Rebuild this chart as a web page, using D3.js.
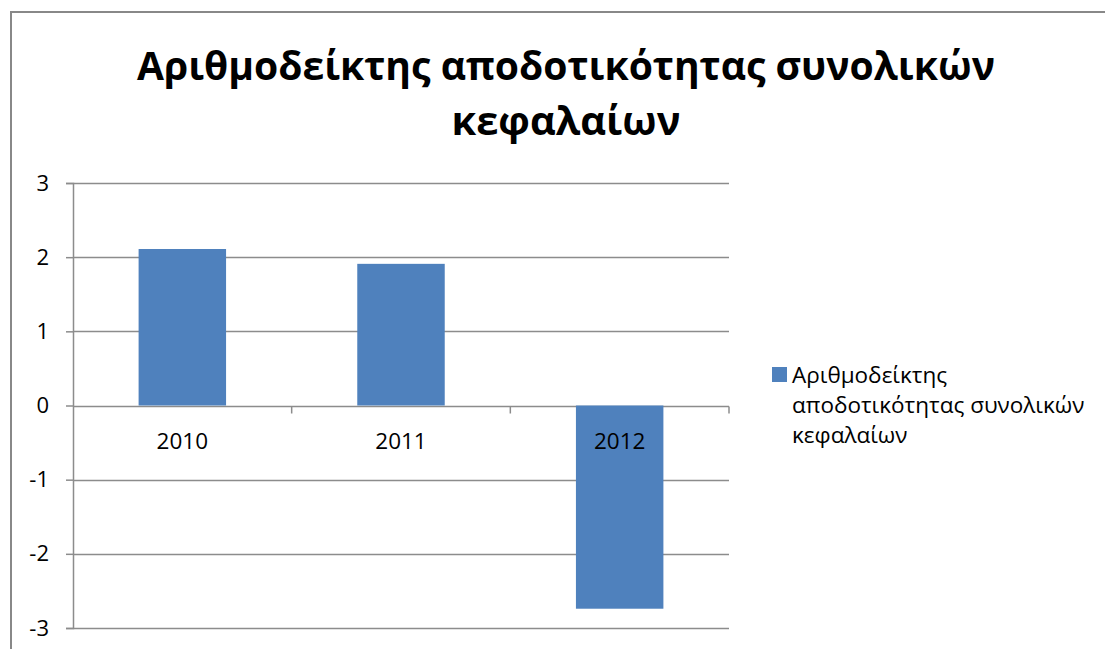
<!DOCTYPE html>
<html>
<head>
<meta charset="utf-8">
<script src="https://cdn.jsdelivr.net/npm/d3@7"></script>
<style>
  html, body { margin: 0; padding: 0; background: #fff; }
  svg { display: block; }
  text { font-family: "Open Sans", "Noto Sans", sans-serif; fill: #000; }
</style>
</head>
<body>
<svg id="chart" width="1105" height="649"></svg>
<script>
// Chart data
const categories = ["2010", "2011", "2012"];
const values = [2.11, 1.91, -2.74];
const yTicks = [3, 2, 1, 0, -1, -2, -3];
const titleLines = ["Αριθμοδείκτης αποδοτικότητας συνολικών", "κεφαλαίων"];
const seriesName = ["Αριθμοδείκτης", "αποδοτικότητας συνολικών", "κεφαλαίων"];

const svg = d3.select("#chart");
const W = 1105, H = 649;
const barColor = "#4F81BD";
const gridColor = "#8C8C8C";

// chart frame (left and top edges visible)
svg.append("path")
  .attr("d", `M11,${H} L11,12 L${W},12`)
  .attr("fill", "none").attr("stroke", "#888").attr("stroke-width", 2);

// title
const title = svg.append("g");
const titleSpecs = [
  { y: 80, width: 858 },
  { y: 135, width: 229 }
];
titleLines.forEach((t, i) => {
  title.append("text")
    .attr("x", 566).attr("y", titleSpecs[i].y)
    .attr("text-anchor", "middle")
    .attr("font-size", 40).attr("font-weight", "bold")
    .attr("textLength", titleSpecs[i].width)
    .attr("lengthAdjust", "spacingAndGlyphs")
    .text(t);
});

// plot area
const plot = { left: 73, right: 729, top: 183, bottom: 628 };

const x = d3.scaleBand()
  .domain(categories)
  .range([plot.left, plot.right])
  .paddingInner(0.6)
  .paddingOuter(0.3);

const y = d3.scaleLinear()
  .domain([-3, 3])
  .range([plot.bottom, plot.top]);

// horizontal gridlines
svg.append("g")
  .selectAll("line")
  .data(yTicks.filter(d => d !== 0))
  .join("line")
  .attr("x1", plot.left).attr("x2", plot.right)
  .attr("y1", d => Math.round(y(d)) + 0.5).attr("y2", d => Math.round(y(d)) + 0.5)
  .attr("stroke", gridColor).attr("stroke-width", 1.5);

// category axis at zero (drawn beneath the bars)
const zeroY = Math.round(y(0)) + 0.5;
svg.append("line")
  .attr("x1", plot.left).attr("x2", plot.right)
  .attr("y1", zeroY).attr("y2", zeroY)
  .attr("stroke", gridColor).attr("stroke-width", 1.5);
const boundaries = d3.range(1, categories.length + 1)
  .map(i => plot.left + i * (plot.right - plot.left) / categories.length);
svg.append("g")
  .selectAll("line")
  .data(boundaries)
  .join("line")
  .attr("x1", d => d).attr("x2", d => d)
  .attr("y1", zeroY).attr("y2", zeroY + 7)
  .attr("stroke", gridColor).attr("stroke-width", 1.5);

// bars
svg.append("g")
  .selectAll("rect")
  .data(values)
  .join("rect")
  .attr("x", (d, i) => x(categories[i]))
  .attr("width", x.bandwidth())
  .attr("y", d => y(Math.max(0, d)))
  .attr("height", d => Math.abs(y(d) - y(0)))
  .attr("fill", barColor);

// value axis
const yAxis = d3.axisLeft(y)
  .tickValues(yTicks)
  .tickSize(7)
  .tickPadding(17)
  .tickFormat(d3.format("d"));
const yg = svg.append("g")
  .attr("transform", `translate(${plot.left},0)`)
  .call(yAxis);
yg.select(".domain").attr("stroke", gridColor).attr("stroke-width", 1.5);
yg.selectAll(".tick line").attr("stroke", gridColor).attr("stroke-width", 1.5);
yg.selectAll(".tick text")
  .attr("font-family", "Open Sans, sans-serif")
  .attr("font-size", 22).attr("fill", "#000")
  .text(d => d < 0 ? "-" + Math.abs(d) : d);

// category labels
svg.append("g")
  .selectAll("text")
  .data(categories)
  .join("text")
  .attr("x", d => x(d) + x.bandwidth() / 2)
  .attr("y", 449)
  .attr("text-anchor", "middle")
  .attr("font-size", 22.5)
  .text(d => d);

// legend
const legend = svg.append("g");
legend.append("rect")
  .attr("x", 772).attr("y", 367).attr("width", 15).attr("height", 15)
  .attr("fill", barColor);
seriesName.forEach((t, i) => {
  legend.append("text")
    .attr("x", 792).attr("y", 383 + i * 30)
    .attr("font-size", 22.5)
    .attr("fill", "#111")
    .text(t);
});
</script>
</body>
</html>
